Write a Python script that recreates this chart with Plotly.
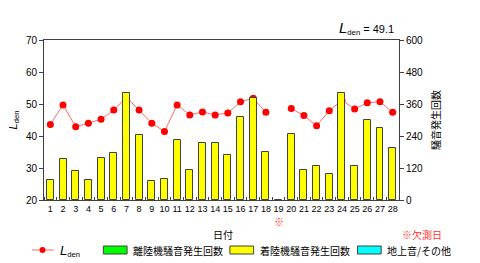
import plotly.graph_objects as go

days = list(range(1, 29))
day_labels = [str(d) for d in days]
lden = [43.6, 49.7, 42.9, 44.0, 45.2, 48.1, 52.1, 48.1, 44.0, 41.4,
        49.7, 46.6, 47.5, 46.6, 47.2, 50.7, 51.8, 47.4, None, 48.6,
        46.4, 43.2, 47.9, 51.2, 48.4, 50.4, 50.7, 47.4]
takeoff = [0] * 28
landing = [75, 152, 107, 75, 158, 176, 402, 242, 71, 77,
           225, 112, 215, 212, 167, 312, 384, 179, 0, 249,
           114, 129, 99, 402, 126, 300, 270, 194]
ground = [0] * 28
lden_total = "49.1"
missing_day = 19

FONT = "Liberation Sans, Noto Sans CJK JP, sans-serif"
JP = "Noto Sans CJK JP, sans-serif"

W, H = 480, 263
L, R, T, B = 40, 399, 40, 200


def px(x):
    return (x - L) / (R - L)


def py(y):
    return (B - y) / (B - T)


fig = go.Figure()
fig.add_trace(go.Bar(x=days, y=landing, yaxis="y2", width=0.55,
                     marker=dict(color="#ffff00", line=dict(color="#404040", width=1)),
                     showlegend=False))
fig.add_trace(go.Scatter(x=days, y=lden, mode="lines+markers", connectgaps=False,
                         line=dict(color="#ff6a6a", width=1),
                         marker=dict(color="#ff0000", size=7),
                         showlegend=False))

fig.update_layout(
    width=W, height=H,
    margin=dict(l=L, r=W - R, t=T, b=H - B),
    paper_bgcolor="white", plot_bgcolor="white",
    font=dict(family=FONT, size=10, color="#000"),
    bargap=0,
    xaxis=dict(range=[0.5, 28.5], tickmode="array", tickvals=days, ticktext=day_labels,
               tickangle=0, ticks="", showline=True, linecolor="#404040", linewidth=1,
               mirror=True, showgrid=False, zeroline=False, tickfont=dict(size=9),
               minor=dict(tickmode="linear", tick0=0.5, dtick=1, ticks="inside",
                          ticklen=3, tickcolor="#404040")),
    yaxis=dict(range=[20, 70], tickvals=[20, 30, 40, 50, 60, 70], ticks="outside",
               ticklen=4, tickcolor="#404040", showline=True, linecolor="#404040",
               linewidth=1, showgrid=False, zeroline=False,
               title=dict(text="<i>L</i><sub>den</sub>", font=dict(size=11), standoff=6)),
    yaxis2=dict(range=[0, 600], tickvals=[0, 120, 240, 360, 480, 600], ticks="outside",
                ticklen=4, tickcolor="#404040", overlaying="y", side="right",
                showline=True, linecolor="#404040", linewidth=1, showgrid=False,
                zeroline=False,
                title=dict(text="騒音発生回数", font=dict(family=JP, size=10), standoff=10)),
)


def note(x, y, text, size=10, family=FONT, color="#000", xanchor="center", xref="paper"):
    return dict(x=x, y=py(y), xref=xref, yref="paper", showarrow=False,
                xanchor=xanchor, yanchor="middle", text=text,
                font=dict(family=family, size=size, color=color))


ann = []
ann.append(note(px(366), 28,
                "<i><span style='font-size:15px'>L</span></i><sub>den</sub> = " + lden_total,
                size=11))
ann.append(note(px(221), 234, "日付", family=JP))
ann.append(note(px(422), 234, "※欠測日", family=JP, color="#ff3030"))
ann.append(note(missing_day, 221, "※", size=10, family=JP, color="#ff3030", xref="x"))

# legend
shapes = []
ly = 250
shapes.append(dict(type="line", xref="paper", yref="paper", x0=px(28), x1=px(50),
                   y0=py(ly), y1=py(ly), line=dict(color="#ff6a6a", width=1)))
shapes.append(dict(type="circle", xref="paper", yref="paper", x0=px(35.5), x1=px(41.5),
                   y0=py(ly + 3), y1=py(ly - 3), fillcolor="#ff0000",
                   line=dict(color="#ff0000", width=0)))
ann.append(note(px(54), ly + 1,
                "<i><span style='font-size:13px'>L</span></i><sub>den</sub>", size=11,
                xanchor="left"))
legend_items = [("#00ff00", "離陸機騒音発生回数", 100),
                ("#ffff00", "着陸機騒音発生回数", 228),
                ("#00ffff", "地上音/その他", 357)]
for color, label, x0 in legend_items:
    shapes.append(dict(type="rect", xref="paper", yref="paper", x0=px(x0), x1=px(x0 + 24),
                       y0=py(ly + 4), y1=py(ly - 4), fillcolor=color,
                       line=dict(color="#404040", width=1)))
    ann.append(note(px(x0 + 28), ly, label, family=JP, xanchor="left"))

fig.update_layout(annotations=ann, shapes=shapes)
fig.write_html("out.html")
